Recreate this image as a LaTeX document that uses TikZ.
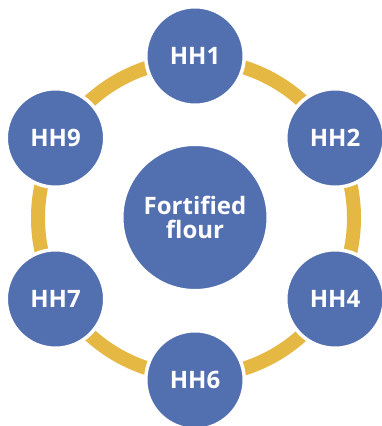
\documentclass[tikz,border=0pt]{standalone}
\usepackage{fontspec}
\setmainfont{Open Sans}
\definecolor{hhblue}{HTML}{526FB0}
\definecolor{ringgold}{HTML}{E5B743}
\begin{document}
\begin{tikzpicture}[x=1pt,y=1pt,
  hh/.style={circle,fill=hhblue,draw=white,line width=3.5pt,minimum size=98.5pt,inner sep=0pt,
    text=white,font=\fontsize{24}{25}\selectfont\bfseries},
  hub/.style={circle,fill=hhblue,draw=white,line width=3.5pt,minimum size=146.5pt,inner sep=0pt,
    text=white,align=center,font=\fontsize{24}{24}\selectfont\bfseries}]
\useasboundingbox (0,0) rectangle (382,426);
\coordinate (ringc) at (196,208);
\draw[ringgold,line width=14pt] (ringc) circle[radius=158];
\node[hh] (hh1) at (195,370) {HH1};
\node[hh] (hh2) at (335,288) {HH2};
\node[hh] (hh4) at (335,127) {HH4};
\node[hh] (hh6) at (195,46) {HH6};
\node[hh] (hh7) at (55.5,127) {HH7};
\node[hh] (hh9) at (55.5,288) {HH9};
\node[hub] (hub) at (195,208.5) {Fortified\\flour};
\end{tikzpicture}
\end{document}
